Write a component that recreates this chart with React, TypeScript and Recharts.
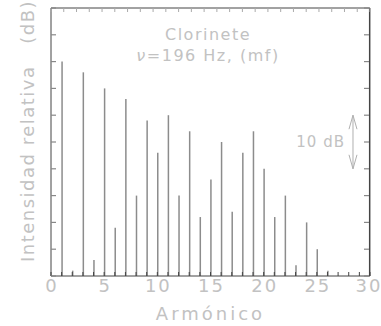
import { ComposedChart, Bar, XAxis, YAxis, ReferenceLine } from "recharts";

const harmonics = [1, 2, 3, 4, 5, 6, 7, 8, 9, 10, 11, 12, 13, 14, 15, 16, 17, 18, 19, 20, 21, 22, 23, 24, 25, 26];
const levels = [40, 1, 38, 3, 35, 9, 33, 15, 29, 23, 30, 15, 27, 11, 18, 25, 12, 23, 27, 20, 11, 15, 2, 10, 5, 1];
const xTicks = [0, 1, 2, 3, 4, 5, 6, 7, 8, 9, 10, 11, 12, 13, 14, 15, 16, 17, 18, 19, 20, 21, 22, 23, 24, 25, 26, 27, 28, 29, 30];
const yTicks = [0, 5, 10, 15, 20, 25, 30, 35, 40, 45, 50];
const frameRight = 29.97;
const scaleBar = { x: 28.4, from: 20, to: 30, label: "10 dB" };

const data = harmonics.map((h, i) => ({ h, db: levels[i] }));

const W = 381;
const H = 326;
const M = { top: 7, right: 11, bottom: 0, left: 50 };
const PLOT_W = W - M.left - 1 - M.right;

const FONT = "'DejaVu Sans', sans-serif";
const TEXT = "#c2c2c2";
const AXIS = "#444";

function BottomTick(props: any) {
  const { x, y, payload } = props;
  const v = payload.value;
  return (
    <g>
      <line x1={x} y1={y} x2={x} y2={y - 4} stroke={AXIS} strokeWidth={1} />
      {v % 5 === 0 && (
        <text x={v === 30 ? x - 1 : x + 1} y={y + 16} textAnchor="middle" fontSize={18} letterSpacing={2} fill={TEXT} fontFamily={FONT}>
          {v}
        </text>
      )}
    </g>
  );
}

function TopTick(props: any) {
  const { x, y } = props;
  return <line x1={x} y1={y} x2={x} y2={y + 4} stroke="#aaa" strokeWidth={1} />;
}

// left axis tick, mirrored onto the right frame edge too
function SideTick(props: any) {
  const { x, y } = props;
  const px = Number(x);
  return (
    <g stroke="#888" strokeWidth={1.2}>
      <line x1={px} y1={y} x2={px + 5} y2={y} />
      <line x1={px + PLOT_W - 6} y1={y} x2={px + PLOT_W - 1} y2={y} />
    </g>
  );
}

function ArrowShape(props: any) {
  const { x1, y1, x2, y2 } = props;
  const top = Math.min(y1, y2);
  const bot = Math.max(y1, y2);
  const c = "#b0b0b0";
  return (
    <g fill="none" stroke={c} strokeWidth={1}>
      <line x1={x1} y1={top} x2={x2} y2={bot} />
      <polyline points={`${x1 - 4},${top + 14} ${x1},${top} ${x1 + 4},${top + 14}`} />
      <polyline points={`${x1 - 4},${bot - 14} ${x1},${bot} ${x1 + 4},${bot - 14}`} />
    </g>
  );
}

export default function App() {
  return (
    <div style={{ position: "absolute", left: 0, top: 0, width: W, height: H, background: "#fff" }}>
      <ComposedChart width={W} height={H} data={data} margin={M}>
        <XAxis
          xAxisId="b"
          dataKey="h"
          type="number"
          domain={[0, 30]}
          ticks={xTicks}
          interval={0}
          height={50}
          tickSize={0}
          tickMargin={0}
          tick={<BottomTick />}
          stroke={AXIS}
          label={{ value: "Armónico", position: "insideBottom", offset: 6, fill: TEXT, fontSize: 18, letterSpacing: 3, fontFamily: FONT }}
        />
        <XAxis
          xAxisId="t"
          orientation="top"
          type="number"
          domain={[0, 30]}
          ticks={xTicks}
          interval={0}
          height={1}
          tickSize={0}
          tickMargin={0}
          tick={<TopTick />}
          stroke={AXIS}
        />
        <YAxis
          yAxisId="l"
          type="number"
          domain={[0, 50]}
          ticks={yTicks}
          interval={0}
          width={1}
          tickSize={0}
          tickMargin={0}
          tick={<SideTick />}
          stroke={AXIS}
        />
        <ReferenceLine xAxisId="b" yAxisId="l" x={frameRight} stroke={AXIS} strokeWidth={1.5} ifOverflow="visible" />
        <Bar xAxisId="b" yAxisId="l" dataKey="db" barSize={1.5} fill="#8c8c8c" isAnimationActive={false} />
        <ReferenceLine
          xAxisId="b"
          yAxisId="l"
          segment={[
            { x: scaleBar.x, y: scaleBar.from },
            { x: scaleBar.x, y: scaleBar.to },
          ]}
          shape={<ArrowShape />}
          label={{ value: scaleBar.label, position: "left", offset: 8, fill: TEXT, fontSize: 15, letterSpacing: 1, fontFamily: FONT }}
        />
      </ComposedChart>
      <div
        style={{
          position: "absolute",
          left: 108,
          width: 200,
          top: 24,
          textAlign: "center",
          color: TEXT,
          fontFamily: FONT,
          fontSize: 16,
          letterSpacing: 1.5,
          lineHeight: "21px",
        }}
      >
        <div>Clorinete</div>
        <div>
          <span style={{ fontStyle: "italic" }}>ν</span>=196 Hz, (mf)
        </div>
      </div>
      <div
        style={{
          position: "absolute",
          left: 27,
          top: 131,
          transform: "translate(-50%, -50%) rotate(-90deg)",
          whiteSpace: "pre",
          color: TEXT,
          fontFamily: FONT,
          fontSize: 18,
          letterSpacing: 1.5,
        }}
      >
        {"Intensidad relativa   (dB)"}
      </div>
    </div>
  );
}
